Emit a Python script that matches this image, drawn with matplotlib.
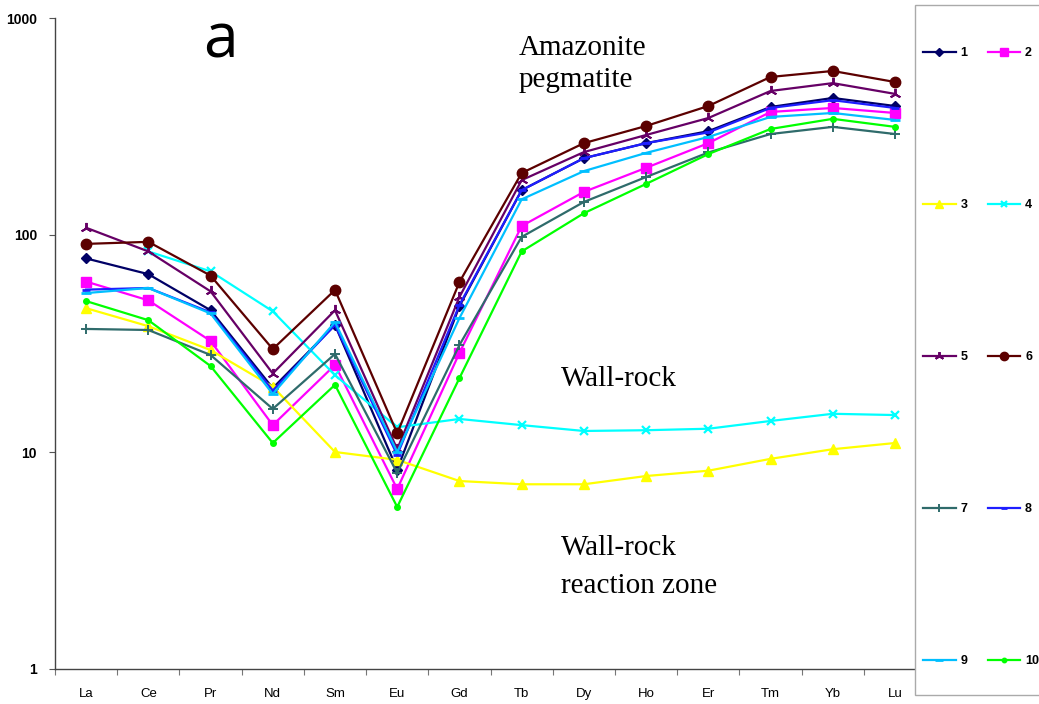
import matplotlib
matplotlib.use("Agg")
import matplotlib.pyplot as plt
from matplotlib.lines import Line2D
from matplotlib.patches import Rectangle

nan = float('nan')
ree = ['La', 'Ce', 'Pr', 'Nd', 'Sm', 'Eu', 'Gd', 'Tb', 'Dy', 'Ho', 'Er', 'Tm', 'Yb', 'Lu']

s1 = [78, 66, 45, 19.7, 38.5, 8.3, 47, 161, 226, 265, 301, 389, 428, 393]
s2 = [61, 50, 32.5, 13.3, 25.2, 6.75, 28.6, 110, 158, 204, 265, 369, 385, 365]
s3 = [46, 38, 29.5, 20.0, 10.0, 9.2, 7.35, 7.1, 7.1, 7.75, 8.2, 9.3, 10.3, 11.0]
s4 = [nan, 84, 68, 44.5, 22.6, 13.0, 14.2, 13.3, 12.5, 12.6, 12.8, 13.9, 15.0, 14.8]
s5 = [108, 84, 55, 23, 45, 10.3, 51.8, 179, 241, 289, 346, 461, 501, 447]
s6 = [91, 93, 65, 29.8, 55.8, 12.2, 60.7, 193, 265, 318, 393, 535, 570, 507]
s7 = [36.9, 36.5, 28, 15.8, 28.3, 8.0, 31.1, 98, 142, 185, 240, 292, 315, 292]
s8 = [56, 57, 44, 19.2, 38.5, 9.7, 47.6, 161, 226, 265, 297, 385, 418, 385]
s9 = [54, 57, 43.5, 18.5, 39.7, 10.0, 41.4, 146, 197, 239, 283, 350, 365, 339]
s10 = [49.6, 40.5, 24.9, 11.0, 20.4, 5.58, 21.9, 84, 126, 172, 236, 308, 343, 315]

series_labels = ['1', '2', '3', '4', '5', '6', '7', '8', '9', '10']
series_values = [s1, s2, s3, s4, s5, s6, s7, s8, s9, s10]
yticks = [1, 10, 100, 1000]
ytick_labels = ['1', '10', '100', '1000']

styles = [
    dict(color='#000066', marker='D', ms=5.5),
    dict(color='#FF00FF', marker='s', ms=7),
    dict(color='#FFFF00', marker='^', ms=7),
    dict(color='#00FFFF', marker='x', ms=6, mew=1.6),
    dict(color='#660066', marker=(3, 2, 0), ms=8, mew=1.4),
    dict(color='#5C0000', marker='o', ms=7.5),
    dict(color='#2F6B6B', marker='+', ms=7, mew=1.4),
    dict(color='#1E1EFF', marker='_', ms=6, mew=2),
    dict(color='#00BFFF', marker='_', ms=7, mew=2),
    dict(color='#00FF00', marker='o', ms=4),
]

W, H = 1039, 704
fig = plt.figure(figsize=(W / 100, H / 100), dpi=100)
fig.patch.set_facecolor('white')

ax_l, ax_r, ax_t, ax_b = 55, 914, 18, 669
ax = fig.add_axes([ax_l / W, 1 - ax_b / H, (ax_r - ax_l) / W, (ax_b - ax_t) / H])

x = list(range(len(ree)))
for lab, vals, st in zip(series_labels, series_values, styles):
    ax.plot(x, vals, color=st['color'], marker=st['marker'], ms=st['ms'],
            mew=st.get('mew', 1), mfc=st['color'], mec=st['color'],
            lw=1.6, label=lab, clip_on=False)

ax.set_yscale('log')
ax.set_ylim(1, 1000)
span = (ax_r - 86) / 62.23
ax.set_xlim(-0.5, span)

ax.set_yticks(yticks)
ax.set_yticklabels(ytick_labels)
ax.yaxis.set_minor_locator(matplotlib.ticker.NullLocator())
ax.tick_params(axis='y', which='major', length=4, width=0.8, color='#555555',
               pad=9, labelsize=10)
for t in ax.get_yticklabels():
    t.set_fontfamily(['Liberation Sans', 'DejaVu Sans'])
    t.set_fontweight('bold')

ax.set_xticks(x)
ax.set_xticklabels(ree)
ax.tick_params(axis='x', which='major', length=0, pad=14, labelsize=9.5)
for t in ax.get_xticklabels():
    t.set_fontfamily(['Liberation Sans Narrow', 'Liberation Sans', 'DejaVu Sans'])
ax.set_xticks([i - 0.5 for i in range(len(ree))], minor=True)
ax.tick_params(axis='x', which='minor', length=4, width=0.8, color='#777777')

for s in ['top', 'right']:
    ax.spines[s].set_visible(False)
for s in ['left', 'bottom']:
    ax.spines[s].set_color('#444444')
    ax.spines[s].set_linewidth(1.0)

# Annotations
fig.text(203 / W, 1 - 57 / H, 'a', fontsize=45, family=['Open Sans', 'DejaVu Sans'],
         va='baseline', ha='left')
serif = ['Liberation Serif', 'DejaVu Serif']
fig.text(519 / W, 1 - 55 / H, 'Amazonite', fontsize=21, family=serif, va='baseline')
fig.text(519 / W, 1 - 87 / H, 'pegmatite', fontsize=21, family=serif, va='baseline')
fig.text(561 / W, 1 - 386 / H, 'Wall-rock', fontsize=21, family=serif, va='baseline')
fig.text(561 / W, 1 - 555 / H, 'Wall-rock', fontsize=21, family=serif, va='baseline')
fig.text(561 / W, 1 - 593 / H, 'reaction zone', fontsize=21, family=serif, va='baseline')

# Legend box
fig.patches.append(Rectangle((915 / W, 1 - 695 / H), 200 / W, 690 / H,
                             transform=fig.transFigure, facecolor='white',
                             edgecolor='#AAAAAA', lw=1.0, zorder=5))

order = [0, 2, 4, 6, 8, 1, 3, 5, 7, 9]
leg_handles = []
for i in order:
    st = styles[i]
    leg_handles.append(Line2D([], [], color=st['color'], marker=st['marker'],
                              ms=st['ms'] * 0.8, mew=st.get('mew', 1),
                              mfc=st['color'], mec=st['color'], lw=1.6))
leg = fig.legend(leg_handles, [series_labels[i] for i in order], ncol=2,
                 loc='upper left', bbox_to_anchor=(923 / W, 1 - 47 / H),
                 frameon=False, handlelength=2.6, handletextpad=0.4,
                 columnspacing=1.6, labelspacing=11.2, borderpad=0, borderaxespad=0,
                 prop=dict(family='Liberation Sans', weight='bold', size=9))
leg.set_zorder(6)

fig.savefig('out.png', dpi=100, facecolor='white')
